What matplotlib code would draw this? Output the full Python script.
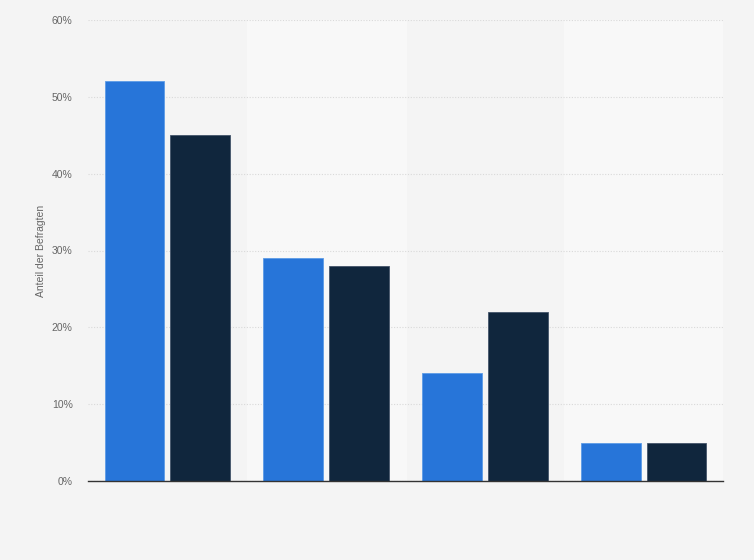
import numpy as np
import matplotlib.pyplot as plt
from matplotlib.ticker import FuncFormatter

plt.rcParams['font.family'] = ['Liberation Sans', 'DejaVu Sans']

groups = ['A', 'B', 'C', 'D']
series_1 = [52, 29, 14, 5]
series_2 = [45, 28, 22, 5]
y_ticks = [0, 10, 20, 30, 40, 50, 60]

fig = plt.figure(figsize=(7.54, 5.60), dpi=100)
fig.patch.set_facecolor('#f4f4f4')
ax = fig.add_axes([88 / 754, 1 - 481 / 560, (723 - 88) / 754, (481 - 20) / 560])
ax.set_facecolor('#f4f4f4')

x = np.arange(len(groups))
for i in x:
    if i % 2 == 1:
        ax.axvspan(i - 0.5, i + 0.5, color='#f8f8f8', zorder=0)

w = 0.377
ax.bar(x - w / 2 - 0.019, series_1, width=w, color='#2775d9', edgecolor='#5c9be6', linewidth=0.6, zorder=3)
ax.bar(x + w / 2 + 0.019, series_2, width=w, color='#10263d', edgecolor='#44546a', linewidth=0.6, zorder=3)

ax.set_xlim(-0.5, len(groups) - 0.5)
ax.set_ylim(0, 60)
ax.set_yticks(y_ticks)
ax.yaxis.set_major_formatter(FuncFormatter(lambda v, p: f'{v:.0f}%'))
ax.set_xticks([])
ax.grid(axis='y', color='#d9d9d9', linestyle=(0, (1, 1.5)), linewidth=0.8, zorder=1)
ax.tick_params(axis='y', length=0, labelsize=7.5, labelcolor='#666666', pad=11)
for s in ['top', 'right', 'left']:
    ax.spines[s].set_visible(False)
ax.spines['bottom'].set_color('#333333')
ax.spines['bottom'].set_linewidth(1)
ax.spines['bottom'].set_zorder(4)
ax.set_ylabel('Anteil der Befragten', fontsize=7.5, color='#666666', labelpad=4)

fig.savefig('out.png', dpi=100, facecolor=fig.get_facecolor())
